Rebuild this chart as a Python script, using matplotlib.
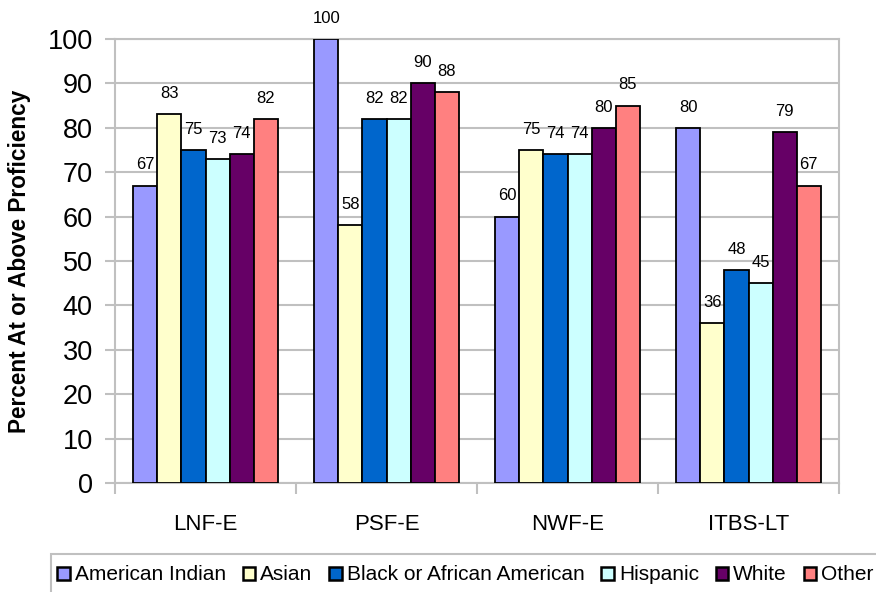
import matplotlib
matplotlib.use("Agg")
import matplotlib.pyplot as plt
from matplotlib.patches import Rectangle
import numpy as np

categories = ["LNF-E", "PSF-E", "NWF-E", "ITBS-LT"]
groups = ["American Indian", "Asian", "Black or African American",
          "Hispanic", "White", "Other"]
american_indian = [67, 100, 60, 80]
asian = [83, 58, 75, 36]
black = [75, 82, 74, 48]
hispanic = [73, 82, 74, 45]
white = [74, 90, 80, 79]
other = [82, 88, 85, 67]
series = [american_indian, asian, black, hispanic, white, other]
colors = ["#9999FF", "#FFFFCC", "#0066CC", "#CCFFFF", "#660066", "#FF8080"]

plt.rcParams['font.family'] = ['Liberation Sans', 'DejaVu Sans']

fig = plt.figure(figsize=(8.76, 5.92), dpi=100)
ax = fig.add_axes([115/876, 1-483/592, 724/876, 444/592])

grid_c = "#C0C0C0"
x = np.arange(len(categories))
w = 0.133
for i, vals in enumerate(series):
    pos = x + (i - 2.5) * w
    ax.bar(pos, vals, w, color=colors[i], edgecolor="black", linewidth=1.3,
           label=groups[i], zorder=3)
    for px, v in zip(pos, vals):
        ax.annotate(str(v), (px, v), xytext=(0, 9.5), textcoords="offset points",
                    ha="center", va="bottom", fontsize=12, zorder=4)

ax.set_xlim(-0.5, 3.5)
ax.set_ylim(0, 100)
ax.set_yticks(range(0, 101, 10))
ax.tick_params(axis="y", labelsize=19.5, length=7, width=1.5, color=grid_c, pad=9)
ax.set_xticks(x)
ax.set_xticklabels(categories, fontsize=16)
ax.tick_params(axis="x", which="major", length=0, pad=22)
ax.set_xticks(np.arange(-0.5, 4, 1), minor=True)
ax.tick_params(axis="x", which="minor", length=8, width=1.5, color=grid_c)
ax.yaxis.grid(True, color=grid_c, linewidth=1.5, zorder=0)
for s in ax.spines.values():
    s.set_color(grid_c)
    s.set_linewidth(1.5)
ax.set_axisbelow(True)
ax.set_ylabel("Percent At or Above Proficiency", fontsize=16.3, fontweight="bold")
ax.yaxis.set_label_coords((31 - 115) / 724, 0.5)

# legend box runs off the bottom/right edge in the original
fig.patches.append(Rectangle((51/876, -0.05), 0.98, 1-554/592+0.05,
                             transform=fig.transFigure, facecolor="white",
                             edgecolor=grid_c, linewidth=1.5))
leg = fig.legend(loc="center left", bbox_to_anchor=(57/876, 1-575/592), ncol=6,
                 fontsize=15, handlelength=0.6, handleheight=0.6,
                 handletextpad=0.25, columnspacing=0.8, borderpad=0,
                 borderaxespad=0, frameon=False)
for h in leg.legend_handles:
    h.set_linewidth(1.8)

fig.savefig("out.png", dpi=100)
